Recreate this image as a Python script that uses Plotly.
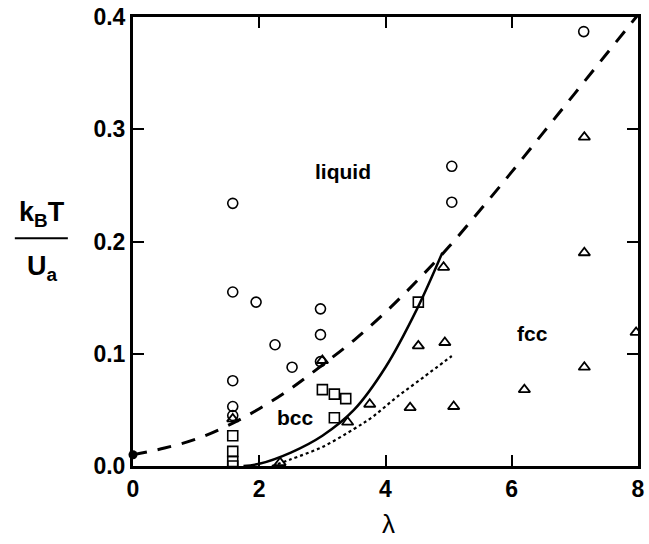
import plotly.graph_objects as go

# Open circles: liquid
liq_x = [1.58, 1.58, 1.95, 2.25, 2.52, 2.97, 2.97, 2.97, 1.58, 1.58, 1.58, 5.05, 5.05, 7.14]
liq_y = [0.234, 0.155, 0.146, 0.108, 0.088, 0.140, 0.117, 0.093, 0.076, 0.053, 0.045, 0.267, 0.235, 0.387]

# Open squares: bcc
bcc_x = [1.58, 1.58, 1.58, 1.58, 3.00, 3.19, 3.37, 3.19, 4.52]
bcc_y = [0.027, 0.013, 0.004, 0.000, 0.068, 0.064, 0.060, 0.043, 0.146]

# Open triangles: fcc
fcc_x = [1.58, 2.33, 3.00, 3.40, 3.75, 4.39, 4.52, 4.94, 4.92, 5.08, 6.20, 7.15, 7.15, 7.15, 7.97]
fcc_y = [0.042, 0.003, 0.094, 0.039, 0.055, 0.052, 0.107, 0.110, 0.177, 0.053, 0.068, 0.088, 0.190, 0.293, 0.119]

# Filled point at lambda = 0
pt_x = [0.0]
pt_y = [0.010]

# Dashed boundary
dash_x = [0.0, 0.5, 1.0, 1.5, 2.0, 2.5, 3.0, 3.5, 4.0, 4.5, 5.0, 5.5, 6.0, 6.5, 7.0, 7.5, 8.0]
dash_y = [0.010, 0.016, 0.024, 0.036, 0.051, 0.069, 0.090, 0.112, 0.137, 0.165, 0.195, 0.228, 0.262, 0.297, 0.332, 0.367, 0.402]

# Solid boundary
solid_x = [1.75, 2.0, 2.5, 3.0, 3.5, 4.0, 4.5, 4.9]
solid_y = [0.000, 0.002, 0.012, 0.027, 0.050, 0.088, 0.140, 0.190]

# Dotted boundary
dot_x = [2.2, 2.5, 3.0, 3.5, 3.8, 4.17, 4.6, 5.05]
dot_y = [0.000, 0.006, 0.017, 0.033, 0.044, 0.061, 0.079, 0.098]

# Region labels
lab_text = ["liquid", "bcc", "fcc"]
lab_x = [3.33, 2.58, 6.33]
lab_y = [0.262, 0.043, 0.118]

# Tick labels
x_ticks = [0, 2, 4, 6, 8]
x_ticklabels = ["0", "2", "4", "6", "8"]
y_ticks = [0.0, 0.1, 0.2, 0.3, 0.4]
y_ticklabels = ["0.0", "0.1", "0.2", "0.3", "0.4"]

FONT = "Liberation Sans, Arial, sans-serif"
fig = go.Figure()

fig.add_trace(go.Scatter(x=dash_x, y=dash_y, mode="lines", line=dict(color="black", width=3, dash="14px,11px", shape="spline"), showlegend=False))
fig.add_trace(go.Scatter(x=solid_x, y=solid_y, mode="lines", line=dict(color="black", width=2.5, shape="spline"), showlegend=False))
fig.add_trace(go.Scatter(x=dot_x, y=dot_y, mode="lines", line=dict(color="black", width=2.2, dash="dot", shape="spline"), showlegend=False))

mk = dict(color="black", size=10, line=dict(color="black", width=1.6))
fig.add_trace(go.Scatter(x=liq_x, y=liq_y, mode="markers", marker=dict(symbol="circle-open", **mk), showlegend=False))
fig.add_trace(go.Scatter(x=bcc_x, y=bcc_y, mode="markers", marker=dict(symbol="square-open", **mk), showlegend=False))
fig.add_trace(go.Scatter(x=fcc_x, y=fcc_y, mode="markers", marker=dict(symbol="triangle-up-open", color="black", size=10, line=dict(color="black", width=1.8)), showlegend=False))
fig.add_trace(go.Scatter(x=pt_x, y=pt_y, mode="markers", marker=dict(symbol="circle", color="black", size=9), cliponaxis=False, showlegend=False))

for t, lx, ly in zip(lab_text, lab_x, lab_y):
    fig.add_annotation(text="<b>" + t + "</b>", x=lx, y=ly, xref="x", yref="y", showarrow=False,
                       xanchor="center", yanchor="middle", font=dict(family=FONT, size=21, color="black"))

axis_common = dict(showgrid=False, zeroline=False, showline=True, linecolor="black", linewidth=3,
                   mirror="ticks", ticks="inside", ticklen=11, tickwidth=2, tickcolor="black",
                   tickfont=dict(family=FONT, size=23, color="black"))

fig.update_xaxes(range=[0, 8], tickvals=x_ticks, ticktext=["<b>" + s + "</b>" for s in x_ticklabels], **axis_common)
fig.update_yaxes(range=[0, 0.4], tickvals=y_ticks, ticktext=["<b>" + s + "</b>" for s in y_ticklabels], **axis_common)

fig.add_annotation(text="λ", xref="paper", yref="paper", x=0.505, y=-0.13, showarrow=False,
                   xanchor="center", yanchor="middle", font=dict(family=FONT, size=26, color="black"))
fig.add_annotation(text="<b>k<sub>B</sub>T</b>", xref="paper", yref="paper", x=-0.18, y=0.562, showarrow=False,
                   xanchor="center", yanchor="middle", font=dict(family=FONT, size=27, color="black"))
fig.add_annotation(text="<b>U<sub>a</sub></b>", xref="paper", yref="paper", x=-0.18, y=0.44, showarrow=False,
                   xanchor="center", yanchor="middle", font=dict(family=FONT, size=27, color="black"))
fig.add_shape(type="line", xref="paper", yref="paper", x0=-0.234, x1=-0.129, y0=0.507, y1=0.507,
              line=dict(color="black", width=2))

fig.update_layout(width=649, height=544, margin=dict(l=133, r=4, t=16, b=78),
                  plot_bgcolor="white", paper_bgcolor="white")

fig.write_html("out.html")
